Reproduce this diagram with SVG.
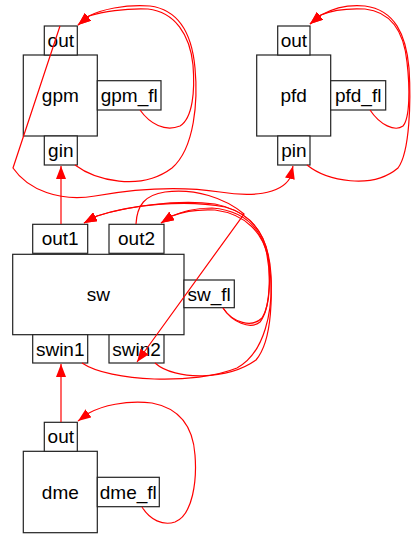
<svg xmlns="http://www.w3.org/2000/svg" width="412" height="534" viewBox="0 0 412 534">
<style>
.b{fill:#fff;stroke:#222;stroke-width:1.2}
.t{font-family:"Liberation Sans",Arial,sans-serif;font-size:19px;fill:#000;text-anchor:middle}
.e{fill:none;stroke:#f00;stroke-width:1.2}
</style>
<defs>
<marker id="ah" viewBox="0 0 13 10" refX="13" refY="5" markerWidth="13" markerHeight="10" markerUnits="userSpaceOnUse" orient="auto">
<path d="M0,0 L13,5 L0,10 z" fill="#f00"/>
</marker>
</defs>
<rect width="412" height="534" fill="#fff"/>
<g id="gpm">
<rect class="b" x="23.3" y="55" width="74" height="81"/>
<text class="t" x="60.3" y="102">gpm</text>
<rect class="b" x="44.3" y="26" width="33" height="29"/>
<text class="t" x="60.8" y="46.5">out</text>
<rect class="b" x="97.3" y="80.7" width="63.7" height="29.3"/>
<text class="t" x="129.2" y="101.5">gpm_fl</text>
<rect class="b" x="44.3" y="136" width="33" height="29"/>
<text class="t" x="60.8" y="156.5">gin</text>
</g>
<g id="pfd">
<rect class="b" x="256.7" y="55" width="74" height="81"/>
<text class="t" x="293.7" y="102">pfd</text>
<rect class="b" x="277.7" y="26" width="32.3" height="29"/>
<text class="t" x="293.9" y="46.5">out</text>
<rect class="b" x="330.7" y="80.7" width="55" height="29.3"/>
<text class="t" x="358.2" y="101.5">pfd_fl</text>
<rect class="b" x="277.7" y="136" width="32.3" height="29"/>
<text class="t" x="293.9" y="156.5">pin</text>
</g>
<g id="sw">
<rect class="b" x="12.7" y="254.3" width="171.3" height="80.4"/>
<text class="t" x="98.4" y="301">sw</text>
<rect class="b" x="32.7" y="224.3" width="55" height="29"/>
<text class="t" x="60.2" y="245">out1</text>
<rect class="b" x="109" y="224.3" width="55" height="29"/>
<text class="t" x="136.5" y="245">out2</text>
<rect class="b" x="184" y="280" width="50.3" height="27.7"/>
<text class="t" x="209.2" y="300.8">sw_fl</text>
<rect class="b" x="32.7" y="334.7" width="55" height="28.3"/>
<text class="t" x="60.2" y="355.5">swin1</text>
<rect class="b" x="109" y="334.7" width="55" height="28.3"/>
<text class="t" x="136.5" y="355.5">swin2</text>
</g>
<g id="dme">
<rect class="b" x="23.3" y="451.3" width="74" height="81.4"/>
<text class="t" x="60.3" y="498.5">dme</text>
<rect class="b" x="44.3" y="422.3" width="33" height="29"/>
<text class="t" x="60.8" y="443">out</text>
<rect class="b" x="97.3" y="477.3" width="62" height="29.4"/>
<text class="t" x="128.3" y="498.5">dme_fl</text>
</g>
<g id="connectors">
<path class="e" marker-end="url(#ah)" d="M61,224 L61,166"/>
<path class="e" marker-end="url(#ah)" d="M61,422 L61,364"/>
<path class="e" marker-end="url(#ah)" d="M60,26 L13,168 C28,190 60,202 95,196 C140,188 180,186 220,192 C250,197 280,195 290,178 L293,166"/>
<path class="e" marker-end="url(#ah)" d="M75,165 C95,180 140,192 172,168 C195,148 198,100 195,68 C192,35 180,10 150,6 C125,4 100,10 89,16 L78,25"/>
<path class="e" marker-end="url(#ah)" d="M140,110 C150,124 165,132 180,126 C193,118 195,90 193,65 C190,35 175,12 148,9 C125,8 102,12 89,16 L78,25"/>
<path class="e" marker-end="url(#ah)" d="M307,165 C327,181 372,190 398,168 C410,152 411,100 409,68 C406,35 395,10 365,6 C345,4 330,10 321,15 L310,24"/>
<path class="e" marker-end="url(#ah)" d="M370,110 C380,125 395,132 403,126 C410,118 410,88 407,62 C404,33 392,12 365,9 C345,8 330,11 321,15 L310,24"/>
<path class="e" marker-end="url(#ah)" d="M142,507 C150,520 163,526 175,522 C193,515 197,480 195,455 C193,425 178,408 152,403 C125,400 102,406 89,413 L78,421"/>
<path class="e" marker-end="url(#ah)" d="M136,224 C137,205 145,195 165,192 C195,188 225,198 244,214 L137,362"/>
<path class="e" marker-end="url(#ah)" d="M82,363 C110,382 195,385 237,368 C265,353 273,310 271,275 C269,240 255,215 225,207 C185,199 130,205 97,216 L84,223"/>
<path class="e" marker-end="url(#ah)" d="M223,308 C232,322 250,330 260,322 C270,310 271,275 268,255 C263,228 245,210 215,204 C175,199 125,207 97,216 L84,223"/>
<path class="e" marker-end="url(#ah)" d="M155,363 C175,381 228,380 256,360 C273,340 273,290 269,262 C264,232 245,214 215,210 C195,209 182,212 172,216 L161,223"/>
<path class="e" marker-end="url(#ah)" d="M223,308 C233,323 252,328 262,318 C271,305 271,272 266,250 C258,222 238,210 212,208 C193,208 182,212 172,216 L161,223"/>
</g>
</svg>
